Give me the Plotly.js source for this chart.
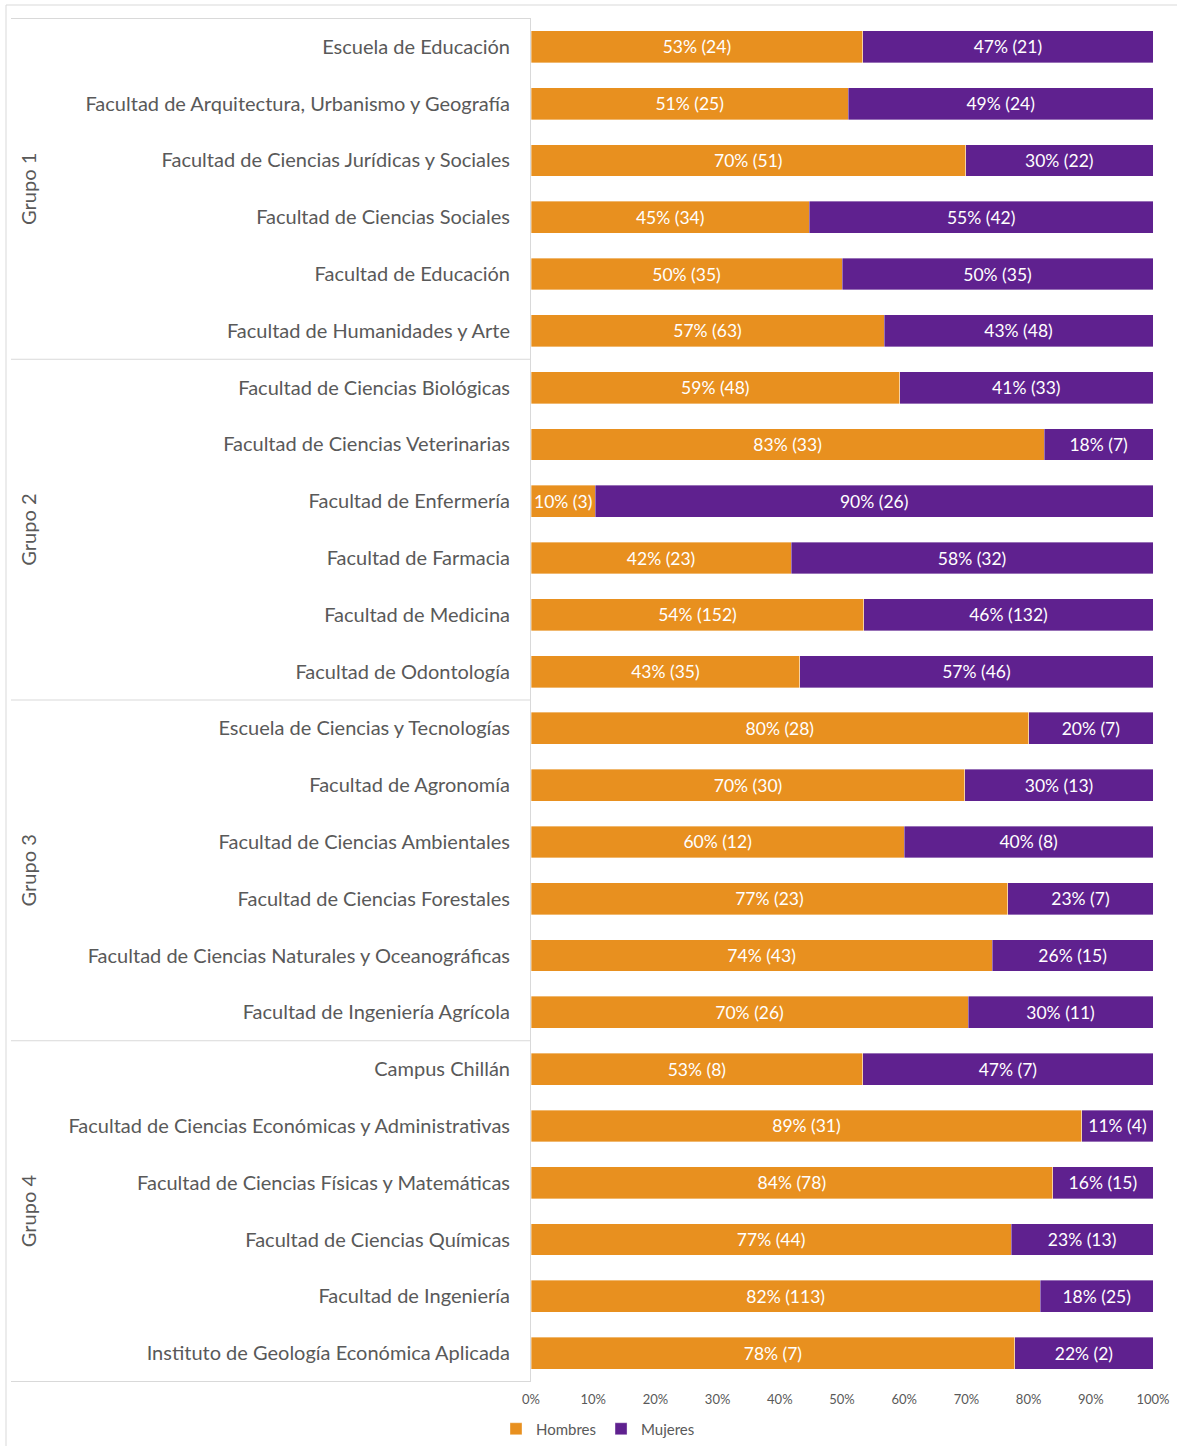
<!DOCTYPE html>
<html>
<head>
<meta charset="utf-8">
<script src="https://cdn.plot.ly/plotly-3.0.1.min.js"></script>
<style>
html,body{margin:0;padding:0;background:#fff;}
#chart{width:1177px;height:1446px;}
</style>
</head>
<body>
<div id="chart"></div>
<script>
const categories = [
  "Escuela de Educación",
  "Facultad de Arquitectura, Urbanismo y Geografía",
  "Facultad de Ciencias Jurídicas y Sociales",
  "Facultad de Ciencias Sociales",
  "Facultad de Educación",
  "Facultad de Humanidades y Arte",
  "Facultad de Ciencias Biológicas",
  "Facultad de Ciencias Veterinarias",
  "Facultad de Enfermería",
  "Facultad de Farmacia",
  "Facultad de Medicina",
  "Facultad de Odontología",
  "Escuela de Ciencias y Tecnologías",
  "Facultad de Agronomía",
  "Facultad de Ciencias Ambientales",
  "Facultad de Ciencias Forestales",
  "Facultad de Ciencias Naturales y Oceanográficas",
  "Facultad de Ingeniería Agrícola",
  "Campus Chillán",
  "Facultad de Ciencias Económicas y Administrativas",
  "Facultad de Ciencias Físicas y Matemáticas",
  "Facultad de Ciencias Químicas",
  "Facultad de Ingeniería",
  "Instituto de Geología Económica Aplicada"
];
const groupNames = ["Grupo 1", "Grupo 2", "Grupo 3", "Grupo 4"];
const groupSizes = [6, 6, 6, 6];
const hombres = [24, 25, 51, 34, 35, 63, 48, 33, 3, 23, 152, 35, 28, 30, 12, 23, 43, 26, 8, 31, 78, 44, 113, 7];
const mujeres = [21, 24, 22, 42, 35, 48, 33, 7, 26, 32, 132, 46, 7, 13, 8, 7, 15, 11, 7, 4, 15, 13, 25, 2];
const xTicks = [0, 10, 20, 30, 40, 50, 60, 70, 80, 90, 100];

const FONT = "Lato, 'Open Sans', sans-serif";
const GRAY = "#595959";

function labels(a, b) {
  return a.map((v, i) => Math.round(v * 100 / (a[i] + b[i])) + "% (" + v + ")");
}

const common = {
  type: "bar",
  orientation: "h",
  y: categories,
  textposition: "inside",
  insidetextanchor: "middle",
  textangle: 0,
  constraintext: "none",
  insidetextfont: {color: "#ffffff", size: 17.5, family: FONT},
  hoverinfo: "skip"
};

const traces = [
  Object.assign({}, common, {
    name: "Hombres", x: hombres, text: labels(hombres, mujeres),
    marker: {color: "#E8901F", line: {width: 0.6, color: "rgba(255,255,255,0.6)"}}
  }),
  Object.assign({}, common, {
    name: "Mujeres", x: mujeres, text: labels(mujeres, hombres),
    marker: {color: "#5F218F", line: {width: 0.6, color: "rgba(255,255,255,0.6)"}}
  })
];

const W = 1177, H = 1446, L = 531, R = 24, T = 18, B = 64;
const plotW = W - L - R, plotH = H - T - B;
const px = v => (v - L) / plotW;
const py = v => (H - B - v) / plotH;

const shapes = [];
const annotations = [];
let start = 0;
groupSizes.forEach((n, g) => {
  shapes.push({type: "line", xref: "paper", yref: "y", x0: px(11), x1: 0, y0: start - 0.5, y1: start - 0.5,
    line: {color: "#d9d9d9", width: 1}});
  annotations.push({xref: "paper", yref: "y", x: px(28), xanchor: "center", yanchor: "middle",
    y: start + (n - 1) / 2, text: groupNames[g],
    textangle: -90, showarrow: false, font: {size: 20, color: GRAY, family: FONT}});
  start += n;
});
shapes.push({type: "line", xref: "paper", yref: "y", x0: px(11), x1: 0, y0: start - 0.5, y1: start - 0.5,
  line: {color: "#d9d9d9", width: 1}});
// outer chart border
shapes.push({type: "rect", xref: "paper", yref: "paper", x0: px(6), x1: px(1190), y0: py(1460), y1: py(5),
  line: {color: "#d9d9d9", width: 1}, fillcolor: "rgba(0,0,0,0)"});

const layout = {
  width: W, height: H,
  margin: {l: L, r: R, t: T, b: B, pad: 0, autoexpand: false},
  barmode: "stack",
  barnorm: "percent",
  bargap: 0.44,
  paper_bgcolor: "#ffffff",
  plot_bgcolor: "#ffffff",
  font: {family: FONT, color: GRAY},
  showlegend: true,
  legend: {orientation: "h", x: px(496), xanchor: "left", y: py(1429), yanchor: "middle",
    font: {size: 15, color: GRAY, family: FONT}, traceorder: "normal", itemwidth: 30,
    bgcolor: "rgba(0,0,0,0)"},
  xaxis: {
    range: [0, 100], tickvals: xTicks, ticktext: xTicks.map(v => v + "%"),
    showgrid: false, zeroline: false, showline: false, ticks: "",
    tickfont: {size: 13, color: GRAY, family: FONT}, ticklabelstandoff: 8, fixedrange: true
  },
  yaxis: {
    type: "category", categoryorder: "array", categoryarray: categories, autorange: "reversed",
    showgrid: false, zeroline: false, showline: true, linecolor: "#d9d9d9", linewidth: 1,
    ticks: "", tickfont: {size: 20, color: GRAY, family: FONT}, ticklabelstandoff: 16, fixedrange: true
  },
  shapes: shapes,
  annotations: annotations
};

Plotly.newPlot("chart", traces, layout, {displayModeBar: false, staticPlot: true});
</script>
</body>
</html>
